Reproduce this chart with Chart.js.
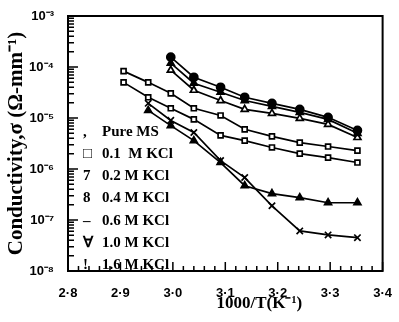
<!DOCTYPE html>
<html><head><meta charset="utf-8">
<script src="https://cdn.jsdelivr.net/npm/chart.js@4/dist/chart.umd.min.js"></script>
<style>html,body{margin:0;padding:0;background:#fff}</style>
</head><body>
<canvas id="c" width="399" height="322"></canvas>
<script>
// 1000/T values (K^-1)
const invT = [2.906, 2.953, 2.996, 3.040, 3.091, 3.137, 3.189, 3.242, 3.296, 3.352];
// conductivity (ohm-mm)^-1
const pureMS = [null, null, 1.56e-4, 6.3e-5, 4.0e-5, 2.55e-5, 1.94e-5, 1.48e-5, 1.03e-5, 5.7e-6];
const kcl01  = [8.3e-5, 5.0e-5, 3.05e-5, 1.55e-5, 1.12e-5, 6.0e-6, 4.35e-6, 3.3e-6, 2.76e-6, 2.3e-6];
const kcl02  = [5.0e-5, 2.55e-5, 1.55e-5, 9.4e-6, 4.55e-6, 3.6e-6, 2.64e-6, 2.0e-6, 1.67e-6, 1.34e-6];
const kcl04  = [null, null, 1.19e-4, 4.8e-5, 3.2e-5, 2.2e-5, 1.69e-5, 1.29e-5, 9.4e-6, 5.0e-6];
const kcl06  = [null, null, 8.65e-5, 3.5e-5, 2.2e-5, 1.48e-5, 1.23e-5, 9.8e-6, 7.5e-6, 4.15e-6];
const kcl10  = [null, 1.41e-5, 7.1e-6, 3.6e-6, 1.34e-6, 4.7e-7, 3.3e-7, 2.74e-7, 2.18e-7, 2.18e-7];
const kcl16  = [null, 1.94e-5, 8.97e-6, 5.2e-6, 1.46e-6, 6.8e-7, 1.9e-7, 6.1e-8, 5.1e-8, 4.5e-8];

const seriesNames = ["Pure MS", "0.1  M KCl", "0.2 M KCl", "0.4 M KCl", "0.6 M KCl", "1.0 M KCl", "1.6 M KCl"];
const legendSymbols = [",", "\u25A1", "7", "8", "\u2013", "\u2200", "!"];
const xTicks = [2.8, 2.9, 3.0, 3.1, 3.2, 3.3, 3.4];

const allSeries = [pureMS, kcl01, kcl02, kcl04, kcl06, kcl10, kcl16];
const styles = [
  {pointStyle:'circle', fill:'#000', r:4},
  {pointStyle:'rect', fill:'#fff', r:3.5},
  {pointStyle:'rect', fill:'#fff', r:3.5},
  {pointStyle:'triangle', fill:'#000', r:4},
  {pointStyle:'triangle', fill:'#fff', r:4},
  {pointStyle:'triangle', fill:'#000', r:4},
  {pointStyle:'crossRot', fill:'#000', r:4.5}
];

const datasets = allSeries.map((vals, i) => ({
  label: seriesNames[i],
  data: invT.map((x, j) => ({x, y: vals[j]})).filter(p => p.y !== null),
  borderColor: '#000',
  borderWidth: 1.7,
  pointStyle: styles[i].pointStyle,
  pointRadius: styles[i].r,
  pointBackgroundColor: styles[i].fill,
  pointBorderColor: '#000',
  pointBorderWidth: 1.7,
  tension: 0,
  fill: false
}));

const sup = {'-':'\u207B','0':'\u2070','1':'\u00B9','2':'\u00B2','3':'\u00B3','4':'\u2074','5':'\u2075','6':'\u2076','7':'\u2077','8':'\u2078','9':'\u2079'};

const framePlugin = {
  id: 'frameTicks',
  afterDraw(chart) {
    const {ctx, chartArea: a, scales: {x, y}} = chart;
    ctx.save();
    ctx.strokeStyle = '#000';
    ctx.lineWidth = 2;
    ctx.strokeRect(a.left, a.top, a.right - a.left, a.bottom - a.top);
    ctx.lineWidth = 1.5;
    ctx.beginPath();
    for (let i = 0; i <= 30; i++) {
      const px = x.getPixelForValue(2.8 + i * 0.02);
      const len = (i % 5 === 0) ? 9 : 5;
      ctx.moveTo(px, a.bottom); ctx.lineTo(px, a.bottom - len);
    }
    for (let e = -8; e < -3; e++) {
      for (let m = 1; m < 10; m++) {
        const py = y.getPixelForValue(m * Math.pow(10, e));
        const len = (m === 1) ? 10 : 6;
        ctx.moveTo(a.left, py); ctx.lineTo(a.left + len, py);
      }
    }
    ctx.stroke();
    // legend text
    ctx.fillStyle = '#000';
    ctx.textBaseline = 'middle';
    ctx.font = 'bold 15px "Liberation Serif", "Times New Roman", serif';
    for (let i = 0; i < seriesNames.length; i++) {
      const ty = a.top + 116 + i * 22.2;
      ctx.fillText(legendSymbols[i], a.left + 15, ty);
      ctx.fillText(seriesNames[i], a.left + 34, ty);
    }
    ctx.restore();
  }
};

new Chart(document.getElementById('c'), {
  type: 'line',
  data: {datasets},
  options: {
    responsive: false,
    animation: false,
    layout: {padding: {left: 0, top: 16, right: 7, bottom: 0}},
    plugins: {legend: {display: false}, tooltip: {enabled: false}},
    scales: {
      x: {
        type: 'linear', min: 2.8, max: 3.4,
        afterBuildTicks: s => { s.ticks = xTicks.map(v => ({value: v})); },
        afterFit: s => { s.height = 51; },
        grid: {display: false},
        border: {display: false},
        ticks: {
          color: '#000', padding: 7, maxRotation: 0,
          font: {family: '"Liberation Sans Narrow", "Liberation Sans", sans-serif', size: 13, weight: 'bold'},
          callback: v => v.toFixed(1).replace('.', '\u00B7')
        },
        title: {
          display: true, text: '\u2003\u2003\u2003\u20031000/T(K\u207B\u00B9)', color: '#000',
          font: {family: '"Liberation Serif", "Times New Roman", serif', size: 17, weight: 'bold'},
          padding: {top: 0, bottom: 8}
        }
      },
      y: {
        type: 'logarithmic', min: 1e-8, max: 1e-3,
        afterFit: s => { s.width = 68; },
        grid: {display: false},
        border: {display: false},
        ticks: {
          autoSkip: false, color: '#000', padding: 6,
          font: {family: '"Liberation Sans Narrow", "Liberation Sans", sans-serif', size: 13, weight: 'bold'},
          callback: v => {
            const e = Math.log10(v);
            if (Math.abs(e - Math.round(e)) > 1e-6) return '';
            return '10' + String(Math.round(e)).split('').map(c => sup[c]).join('');
          }
        },
        title: {
          display: true, text: 'Conductivity,\u03C3 (\u03A9-mm\u207B\u00B9)', color: '#000',
          font: {family: '"Liberation Serif", "Times New Roman", serif', size: 21, weight: 'bold'},
          padding: {top: 4, bottom: 0}
        }
      }
    }
  },
  plugins: [framePlugin]
});
</script>
</body></html>
